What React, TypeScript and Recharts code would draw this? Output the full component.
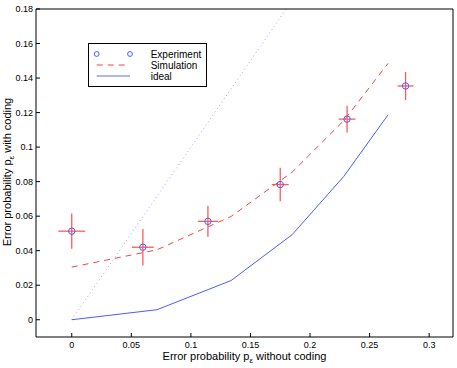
import React from 'react';
import { ComposedChart, Line, Scatter, XAxis, YAxis, ErrorBar } from 'recharts';

// x positions of the model curves
const curveX = [0, 0.0715, 0.1337, 0.185, 0.2283, 0.2655];
const idealY = [0, 0.0058, 0.0227, 0.0493, 0.083, 0.1187];
const simulationY = [0.0305, 0.0405, 0.0598, 0.0855, 0.1153, 0.1485];

// experiment points with error bars
const expX = [0, 0.0597, 0.1143, 0.175, 0.2311, 0.2802];
const expY = [0.0513, 0.042, 0.057, 0.0783, 0.1162, 0.1354];
const expErrX = [0.0113, 0.0092, 0.0084, 0.0071, 0.007, 0.0067];
const expErrY = [0.0102, 0.0106, 0.009, 0.0097, 0.0078, 0.0081];

// reference line p_with = p_without
const refX = [0, 0.18];

const xTicks = [0, 0.05, 0.1, 0.15, 0.2, 0.25, 0.3];
const yTicks = [0, 0.02, 0.04, 0.06, 0.08, 0.1, 0.12, 0.14, 0.16, 0.18];
const xDomain = [-0.03, 0.32];
const yDomain = [-0.01, 0.18];

const idealData = curveX.map((x, i) => ({ x, y: idealY[i] }));
const simData = curveX.map((x, i) => ({ x, y: simulationY[i] }));
const expData = expX.map((x, i) => ({ x, y: expY[i], ex: expErrX[i], ey: expErrY[i] }));
const refData = refX.map((x) => ({ x, y: x }));

const FONT = '"Liberation Sans", Arial, Helvetica, sans-serif';
const BLUE = '#4a5cff';
const RED = '#ff4040';
const ERR = '#ff5a5a';

const XLabel = (props: any) => {
  const vb = props.viewBox || { x: 36, y: 337, width: 417, height: 31 };
  const cx = vb.x + vb.width / 2;
  return (
    <text x={cx} y={vb.y + 22.5} textAnchor="middle" fontSize={11} fill="#000" fontFamily={FONT}>
      <tspan>Error probability p</tspan>
      <tspan fontSize={8} dy={3.5}>ε</tspan>
      <tspan dy={-3.5}> without coding</tspan>
    </text>
  );
};

const YLabel = (props: any) => {
  const vb = props.viewBox || { x: 0, y: 9, width: 36, height: 328 };
  const cy = vb.y + vb.height / 2 - 1;
  const x = 10.7;
  return (
    <text x={x} y={cy} transform={`rotate(-90 ${x} ${cy})`} textAnchor="middle" fontSize={11} fill="#000" fontFamily={FONT}>
      <tspan>Error probability p</tspan>
      <tspan fontSize={8} dy={3.5}>ε</tspan>
      <tspan dy={-3.5}> with coding</tspan>
    </text>
  );
};

const circleShape = (props: any) => (
  <circle cx={props.cx} cy={props.cy} r={3.2} fill="none" stroke={BLUE} strokeWidth={1} />
);

const LegendBox = () => (
  <svg width={119} height={44} style={{ position: 'absolute', left: 88, top: 43 }}>
    <rect x={0.5} y={0.5} width={118} height={43} fill="#fff" stroke="#000" strokeWidth={1} />
    <circle cx={8.7} cy={11} r={2.4} fill="none" stroke={BLUE} />
    <circle cx={42} cy={11} r={2.4} fill="none" stroke={BLUE} />
    <line x1={8.7} y1={22} x2={37} y2={22} stroke={RED} strokeDasharray="6 5" />
    <line x1={8.7} y1={33} x2={42} y2={33} stroke="#8c9cff" strokeWidth={1.5} />
    <text x={62.7} y={15} fontSize={10} fontFamily={FONT} fill="#000">Experiment</text>
    <text x={62.7} y={26} fontSize={10} fontFamily={FONT} fill="#000">Simulation</text>
    <text x={62.7} y={37} fontSize={10} fontFamily={FONT} fill="#000">ideal</text>
  </svg>
);

export default function App() {
  const tickStyle = { fill: '#000', fontSize: 9, fontFamily: FONT };
  return (
    <div style={{ position: 'absolute', left: 0, top: 0, width: 457, height: 368, background: '#fff', fontFamily: FONT }}>
      <ComposedChart width={457} height={368} margin={{ top: 0, right: 0, bottom: 0, left: 0 }}>
        <XAxis
          xAxisId={0}
          dataKey="x"
          type="number"
          domain={xDomain}
          ticks={xTicks}
          interval={0}
          allowDataOverflow
          height={31}
          tickSize={-4}
          tickMargin={9}
          tick={tickStyle}
          axisLine={{ stroke: '#000' }}
          tickLine={{ stroke: '#000' }}
          label={<XLabel />}
        />
        <XAxis
          xAxisId="top"
          orientation="top"
          dataKey="x"
          type="number"
          domain={xDomain}
          ticks={xTicks}
          interval={0}
          allowDataOverflow
          height={9}
          tickSize={-4}
          tick={false}
          axisLine={{ stroke: '#000' }}
          tickLine={{ stroke: '#000' }}
        />
        <YAxis
          yAxisId={0}
          dataKey="y"
          type="number"
          domain={yDomain}
          ticks={yTicks}
          interval={0}
          allowDataOverflow
          width={36}
          tickSize={-4}
          tickMargin={7}
          tick={tickStyle}
          axisLine={{ stroke: '#000' }}
          tickLine={{ stroke: '#000' }}
          label={<YLabel />}
        />
        <YAxis
          yAxisId="right"
          orientation="right"
          dataKey="y"
          type="number"
          domain={yDomain}
          ticks={yTicks}
          interval={0}
          allowDataOverflow
          width={4}
          tickSize={-4}
          tick={false}
          axisLine={{ stroke: '#000' }}
          tickLine={{ stroke: '#000' }}
        />
        <Line
          data={refData}
          dataKey="y"
          type="linear"
          stroke="#9aa8ff"
          strokeWidth={1}
          strokeDasharray="1 3"
          dot={false}
          activeDot={false}
          isAnimationActive={false}
        />
        <Line
          data={idealData}
          dataKey="y"
          type="linear"
          stroke={BLUE}
          strokeWidth={1}
          dot={false}
          activeDot={false}
          isAnimationActive={false}
        />
        <Line
          data={simData}
          dataKey="y"
          type="linear"
          stroke={RED}
          strokeWidth={1}
          strokeDasharray="6 5"
          dot={false}
          activeDot={false}
          isAnimationActive={false}
        />
        <Scatter data={expData} dataKey="y" shape={circleShape} isAnimationActive={false}>
          <ErrorBar dataKey="ex" direction="x" width={0} stroke={ERR} strokeWidth={1.3} />
          <ErrorBar dataKey="ey" direction="y" width={0} stroke={ERR} strokeWidth={1.3} />
        </Scatter>
      </ComposedChart>
      <LegendBox />
    </div>
  );
}
